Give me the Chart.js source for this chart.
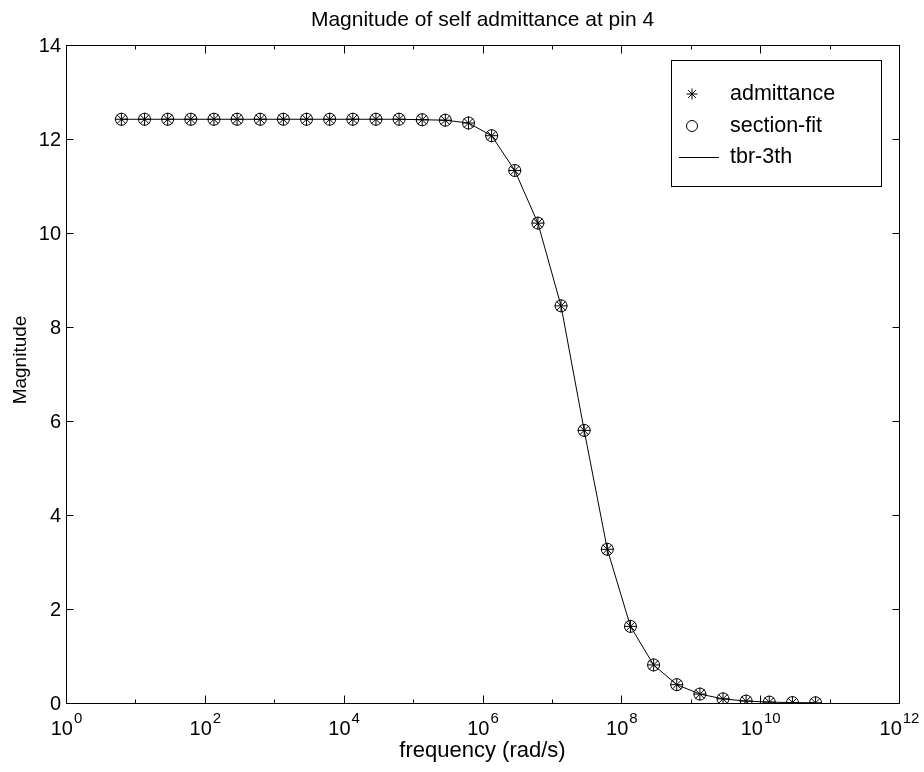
<!DOCTYPE html>
<html>
<head>
<meta charset="utf-8">
<script src="https://cdn.jsdelivr.net/npm/chart.js@4/dist/chart.umd.min.js"></script>
<style>
  html, body { margin: 0; padding: 0; background: #ffffff; }
  canvas { display: block; }
</style>
</head>
<body>
<canvas id="c" width="924" height="772"></canvas>
<script>
// ---- data ----
const frequency = [6.283, 13.54, 29.17, 62.83, 135.4, 291.7, 628.3, 1354, 2917, 6283,
  13536, 29164, 62832, 135367, 291637, 628319, 1.3537e6, 2.9164e6, 6.2832e6, 1.3537e7,
  2.9164e7, 6.2832e7, 1.3537e8, 2.9164e8, 6.2832e8, 1.3537e9, 2.9164e9, 6.2832e9,
  1.3537e10, 2.9164e10, 6.2832e10];
const admittance = [12.42, 12.42, 12.42, 12.42, 12.42, 12.42, 12.42, 12.42, 12.42, 12.42,
  12.42, 12.42, 12.42, 12.41, 12.40, 12.34, 12.07, 11.33, 10.21, 8.45,
  5.80, 3.27, 1.63, 0.81, 0.39, 0.19, 0.088, 0.041,
  0.019, 0.009, 0.004];
const sectionFit = [12.42, 12.42, 12.42, 12.42, 12.42, 12.42, 12.42, 12.42, 12.42, 12.42,
  12.42, 12.42, 12.42, 12.41, 12.40, 12.34, 12.07, 11.33, 10.21, 8.45,
  5.80, 3.27, 1.63, 0.81, 0.39, 0.19, 0.088, 0.041,
  0.019, 0.009, 0.004];
const tbr3th = [12.42, 12.42, 12.42, 12.42, 12.42, 12.42, 12.42, 12.42, 12.42, 12.42,
  12.42, 12.42, 12.42, 12.41, 12.40, 12.34, 12.07, 11.33, 10.21, 8.45,
  5.80, 3.27, 1.63, 0.81, 0.39, 0.19, 0.088, 0.041,
  0.019, 0.009, 0.004];
const seriesNames = ['admittance', 'section-fit', 'tbr-3th'];
const xTickExponents = [0, 1, 2, 3, 4, 5, 6, 7, 8, 9, 10, 11, 12];
const xLabelExponents = [0, 2, 4, 6, 8, 10, 12];
const yTicks = [0, 2, 4, 6, 8, 10, 12, 14];
const titleText = 'Magnitude of self admittance at pin 4';
const xTitle = 'frequency (rad/s)';
const yTitle = 'Magnitude';

const FONT = '"Liberation Sans", Arial, Helvetica, sans-serif';
const toPts = (ys) => frequency.map((f, i) => ({ x: f, y: ys[i] }));

const decor = {
  id: 'decor',
  beforeDraw(chart) {
    const ctx = chart.ctx;
    ctx.save();
    ctx.fillStyle = '#ffffff';
    ctx.fillRect(0, 0, chart.width, chart.height);
    ctx.restore();
  },
  afterDraw(chart) {
    const ctx = chart.ctx;
    const a = chart.chartArea;
    const xs = chart.scales.x, ys = chart.scales.y;
    ctx.save();
    ctx.strokeStyle = '#000';
    ctx.fillStyle = '#000';
    ctx.lineWidth = 1;
    // frame
    const L = Math.round(a.left) + 0.5, R = Math.round(a.right) + 0.5;
    const T = Math.round(a.top) + 0.5, B = Math.round(a.bottom) + 0.5;
    ctx.strokeRect(L, T, R - L, B - T);
    // x ticks (inward, top and bottom)
    ctx.beginPath();
    xTickExponents.forEach(e => {
      const px = Math.round(xs.getPixelForValue(Math.pow(10, e))) + 0.5;
      const len = (e % 2 === 0) ? 8 : 4;
      ctx.moveTo(px, B); ctx.lineTo(px, B - len);
      ctx.moveTo(px, T); ctx.lineTo(px, T + len);
    });
    // y ticks (inward, left and right)
    yTicks.forEach(v => {
      const py = Math.round(ys.getPixelForValue(v)) + 0.5;
      ctx.moveTo(L, py); ctx.lineTo(L + 7, py);
      ctx.moveTo(R, py); ctx.lineTo(R - 7, py);
    });
    ctx.stroke();
    // y tick labels
    ctx.font = '20px ' + FONT;
    ctx.textAlign = 'right';
    ctx.textBaseline = 'middle';
    yTicks.forEach(v => {
      ctx.fillText(String(v), a.left - 5, ys.getPixelForValue(v) + 1);
    });
    // x tick labels 10^e
    ctx.textAlign = 'left';
    ctx.textBaseline = 'alphabetic';
    xLabelExponents.forEach(e => {
      const px = xs.getPixelForValue(Math.pow(10, e));
      ctx.font = '20px ' + FONT;
      const wb = ctx.measureText('10').width;
      ctx.font = '15px ' + FONT;
      const we = ctx.measureText(String(e)).width;
      const x0 = px - (wb + we) / 2;
      ctx.font = '20px ' + FONT;
      ctx.fillText('10', x0, a.bottom + 32);
      ctx.font = '15px ' + FONT;
      ctx.fillText(String(e), x0 + wb + 1, a.bottom + 20);
    });
    // title
    ctx.font = '21px ' + FONT;
    ctx.textAlign = 'center';
    ctx.textBaseline = 'alphabetic';
    ctx.fillText(titleText, (a.left + a.right) / 2, 26);
    // x title
    ctx.font = '22px ' + FONT;
    ctx.textBaseline = 'middle';
    ctx.fillText(xTitle, (a.left + a.right) / 2, 751);
    // y title
    ctx.font = '19px ' + FONT;
    ctx.save();
    ctx.translate(21, 360);
    ctx.rotate(-Math.PI / 2);
    ctx.fillText(yTitle, 0, 0);
    ctx.restore();
    // legend
    ctx.fillStyle = '#fff';
    ctx.fillRect(671.5, 60.5, 210, 126);
    ctx.strokeRect(671.5, 60.5, 210, 126);
    ctx.fillStyle = '#000';
    const rowY = [94, 126, 157];
    const mx = 692, r = 5.5;
    // star
    ctx.beginPath();
    ctx.moveTo(mx - r, rowY[0]); ctx.lineTo(mx + r, rowY[0]);
    ctx.moveTo(mx, rowY[0] - r); ctx.lineTo(mx, rowY[0] + r);
    const d = r * Math.SQRT1_2;
    ctx.moveTo(mx - d, rowY[0] - d); ctx.lineTo(mx + d, rowY[0] + d);
    ctx.moveTo(mx - d, rowY[0] + d); ctx.lineTo(mx + d, rowY[0] - d);
    ctx.stroke();
    // circle
    ctx.beginPath();
    ctx.arc(mx, rowY[1], r, 0, Math.PI * 2);
    ctx.stroke();
    // line
    ctx.beginPath();
    ctx.moveTo(679, rowY[2] + 0.5); ctx.lineTo(719, rowY[2] + 0.5);
    ctx.stroke();
    ctx.font = '21.5px ' + FONT;
    ctx.textAlign = 'left';
    ctx.textBaseline = 'middle';
    seriesNames.forEach((n, i) => ctx.fillText(n, 730, rowY[i]));
    ctx.restore();
  }
};

new Chart(document.getElementById('c'), {
  type: 'scatter',
  data: {
    datasets: [
      { label: seriesNames[0], data: toPts(admittance), pointStyle: 'star', pointRadius: 6.5,
        borderColor: '#000', backgroundColor: '#000', pointBorderWidth: 1, showLine: false },
      { label: seriesNames[1], data: toPts(sectionFit), pointStyle: 'circle', pointRadius: 6,
        borderColor: '#000', backgroundColor: 'rgba(0,0,0,0)', pointBorderWidth: 1, showLine: false },
      { label: seriesNames[2], data: toPts(tbr3th), pointRadius: 0, borderColor: '#000',
        borderWidth: 1, showLine: true, tension: 0 }
    ]
  },
  options: {
    responsive: false,
    animation: false,
    events: [],
    layout: { padding: { left: 66, right: 25, top: 45, bottom: 69 } },
    plugins: { legend: { display: false }, title: { display: false }, tooltip: { enabled: false } },
    scales: {
      x: { type: 'logarithmic', min: 1, max: 1e12,
        ticks: { display: false }, grid: { display: false }, border: { display: false },
        afterFit(s) { s.height = 0; } },
      y: { type: 'linear', min: 0, max: 14,
        ticks: { display: false }, grid: { display: false }, border: { display: false },
        afterFit(s) { s.width = 0; } }
    }
  },
  plugins: [decor]
});
</script>
</body>
</html>
